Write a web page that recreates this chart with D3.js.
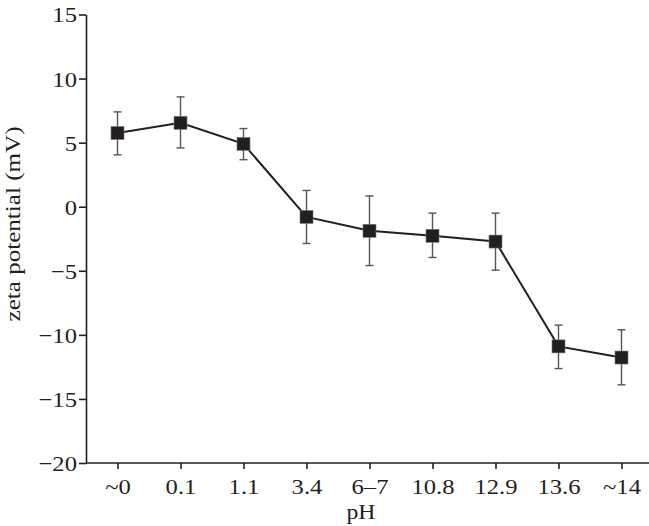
<!DOCTYPE html>
<html>
<head>
<meta charset="utf-8">
<script src="https://cdn.jsdelivr.net/npm/d3@7"></script>
<style>
  body { margin: 0; background: #fff; }
  svg text { font-family: "Liberation Serif", "DejaVu Serif", serif; fill: #231f20; }
  .axis path, .axis line { stroke: #231f20; stroke-width: 1.6; }
</style>
</head>
<body>
<div id="chart"></div>
<script>
// pH categories and measured zeta potential (mV) with error bars
const categories = ['~0', '0.1', '1.1', '3.4', '6\u20137', '10.8', '12.9', '13.6', '~14'];
const zeta = [5.75, 6.55, 4.9, -0.8, -1.88, -2.27, -2.72, -10.9, -11.77];
const errTop = [7.4, 8.57, 6.1, 1.27, 0.84, -0.5, -0.5, -9.24, -9.6];
const errBottom = [4.05, 4.59, 3.67, -2.87, -4.59, -3.96, -4.95, -12.63, -13.9];
const yTicks = [-20, -15, -10, -5, 0, 5, 10, 15];

const W = 649, H = 526;
const plotLeft = 86, plotBottom = 463, plotTop = 14.5;
const stretch = 1.12; // the original type is set a bit wide

const svg = d3.select('#chart').append('svg')
  .attr('width', W)
  .attr('height', H);

const x = d3.scalePoint().domain(categories).range([plotLeft, 653]).padding(0.5);
const y = d3.scaleLinear().domain([-20, 15]).range([plotBottom, plotTop]);

const fmt = d => d < 0 ? '\u2212' + Math.abs(d) : String(d);

// y axis
const yAxis = svg.append('g')
  .attr('class', 'axis')
  .attr('transform', 'translate(' + plotLeft + ',0)')
  .call(d3.axisLeft(y).tickValues(yTicks).tickFormat(fmt).tickSize(7).tickSizeOuter(0).tickPadding(2));
yAxis.selectAll('.tick text')
  .style('font-size', '22px')
  .attr('dy', '0.34em')
  .attr('x', -9 / stretch)
  .attr('transform', 'scale(' + stretch + ',1)');

// x axis
const xAxis = svg.append('g')
  .attr('class', 'axis')
  .attr('transform', 'translate(0,' + plotBottom + ')')
  .call(d3.axisBottom(x).tickSize(6).tickSizeOuter(0).tickPadding(9));
xAxis.selectAll('.tick text')
  .style('font-size', '22px')
  .attr('transform', 'scale(' + stretch + ',1)');
xAxis.select('.domain').attr('d', 'M' + plotLeft + ',0H653');

// axis titles
svg.append('text')
  .attr('transform', 'translate(20,224) rotate(-90)')
  .attr('text-anchor', 'middle')
  .style('font-size', '22px')
  .attr('textLength', 195)
  .attr('lengthAdjust', 'spacingAndGlyphs')
  .text('zeta potential (mV)');

svg.append('text')
  .attr('x', 361)
  .attr('y', 519)
  .attr('text-anchor', 'middle')
  .style('font-size', '22px')
  .attr('textLength', 29)
  .attr('lengthAdjust', 'spacingAndGlyphs')
  .text('pH');

const pts = categories.map((c, i) => ({c, v: zeta[i], hi: errTop[i], lo: errBottom[i]}));

// error bars
const eb = svg.append('g').attr('stroke', '#555').attr('stroke-width', 1.4);
eb.selectAll('line.v').data(pts).join('line')
  .attr('class', 'v')
  .attr('x1', d => x(d.c)).attr('x2', d => x(d.c))
  .attr('y1', d => y(d.hi)).attr('y2', d => y(d.lo));
eb.selectAll('line.t').data(pts).join('line')
  .attr('class', 't')
  .attr('x1', d => x(d.c) - 4).attr('x2', d => x(d.c) + 4)
  .attr('y1', d => y(d.hi)).attr('y2', d => y(d.hi));
eb.selectAll('line.b').data(pts).join('line')
  .attr('class', 'b')
  .attr('x1', d => x(d.c) - 4).attr('x2', d => x(d.c) + 4)
  .attr('y1', d => y(d.lo)).attr('y2', d => y(d.lo));

// connecting line
svg.append('path')
  .datum(pts)
  .attr('fill', 'none')
  .attr('stroke', '#231f20')
  .attr('stroke-width', 2)
  .attr('d', d3.line().x(d => x(d.c)).y(d => y(d.v)));

// square markers
const s = 13;
svg.selectAll('rect.m').data(pts).join('rect')
  .attr('class', 'm')
  .attr('x', d => x(d.c) - s / 2)
  .attr('y', d => y(d.v) - s / 2)
  .attr('width', s)
  .attr('height', s)
  .attr('fill', '#231f20')
  .attr('stroke', '#777')
  .attr('stroke-width', 0.6);
</script>
</body>
</html>
